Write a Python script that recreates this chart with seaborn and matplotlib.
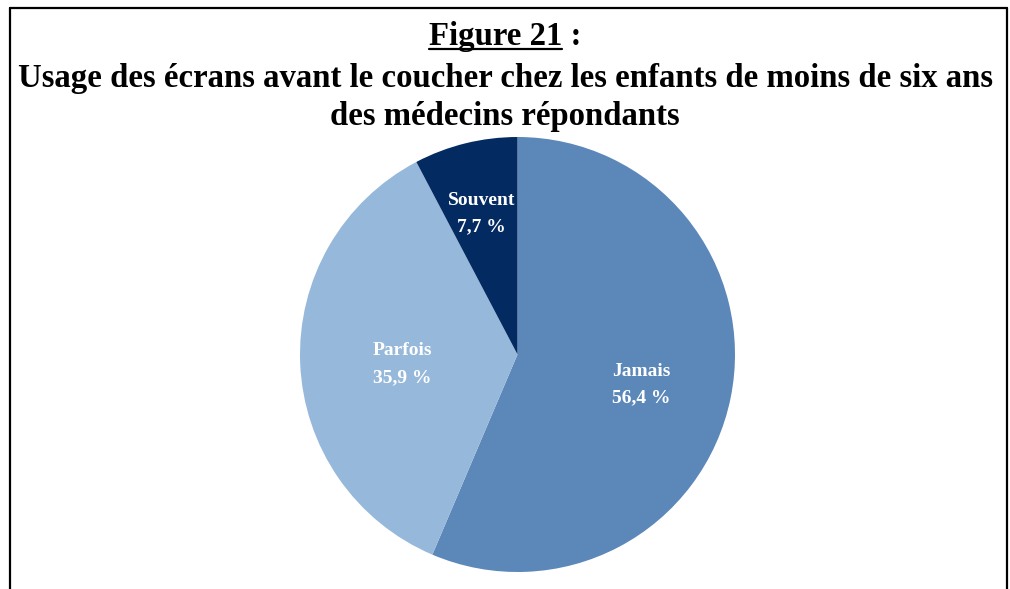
import matplotlib
matplotlib.use('Agg')
import matplotlib.pyplot as plt
import matplotlib.transforms as mtransforms
import numpy as np
import seaborn as sns

categories = ["Jamais", "Parfois", "Souvent"]
values = [56.4, 35.9, 7.7]
colors = ["#5C87B9", "#96B8DA", "#042B61"]
label_radius = [0.58, 0.53, 0.69]  # distance of the text from centre, per slice

sns.set_style("white")
plt.rcParams['font.family'] = ['Liberation Serif', 'DejaVu Serif']
plt.rcParams['text.color'] = 'black'

fig = plt.figure(figsize=(10.10, 5.89), dpi=100)

# frame around the figure (open at the bottom)
fig.add_artist(plt.Line2D([10/1010, 10/1010], [0, 1 - 8/589], color="black", lw=1.6))
fig.add_artist(plt.Line2D([10/1010, 1007/1010], [1 - 8/589, 1 - 8/589], color="black", lw=1.6))
fig.add_artist(plt.Line2D([1007/1010, 1007/1010], [1 - 8/589, 0], color="black", lw=1.6))

# title
tsize = 23.6
full = fig.text(0.5, 1 - 36/589, "Figure 21 :", ha="center", va="center", fontsize=tsize, fontweight="bold")
fig.text(0.5, 1 - 78/589, "Usage des écrans avant le coucher chez les enfants de moins de six ans",
         ha="center", va="center", fontsize=tsize, fontweight="bold")
fig.text(0.5, 1 - 116/589, "des médecins répondants", ha="center", va="center", fontsize=tsize, fontweight="bold")

ax = fig.add_axes([300/1010, 17/589, 435/1010, 435/589])
wedges, _ = ax.pie(values, colors=colors, startangle=90, counterclock=False,
                   wedgeprops=dict(linewidth=0))
ax.set_xlim(-1, 1)
ax.set_ylim(-1, 1)

lbl_trans = mtransforms.offset_copy(ax.transData, fig=fig, y=-5, units='dots')
for w, cat, v, r in zip(wedges, categories, values, label_radius):
    mid = np.deg2rad((w.theta1 + w.theta2) / 2)
    txt = "%s\n%s %%" % (cat, ("%.1f" % v).replace(".", ","))
    ax.text(r * np.cos(mid), r * np.sin(mid), txt, ha="center", va="center", transform=lbl_trans,
            color="white", fontsize=14, fontweight="bold", linespacing=1.75)

# underline for "Figure 21"
fig.canvas.draw()
renderer = fig.canvas.get_renderer()
part = fig.text(0.5, 0.5, "Figure 21", alpha=0, fontsize=tsize, fontweight="bold")
bb_full = full.get_window_extent(renderer)
bb_part = part.get_window_extent(renderer)
x0 = bb_full.x0 / fig.bbox.width
x1 = (bb_full.x0 + bb_part.width) / fig.bbox.width
yline = (bb_full.y0 + 3) / fig.bbox.height
fig.add_artist(plt.Line2D([x0, x1], [yline, yline], color="black", lw=1.6))

fig.savefig("out.png", dpi=100)
